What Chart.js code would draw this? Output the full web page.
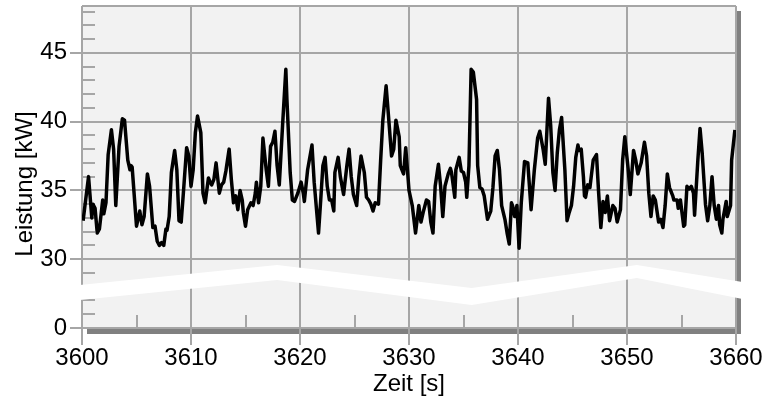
<!DOCTYPE html>
<html>
<head>
<meta charset="utf-8">
<script src="https://cdn.jsdelivr.net/npm/chart.js@4"></script>
<style>
    html, body { margin: 0; padding: 0; background: #fff; }
</style>
</head>
<body>
<canvas id="chart" width="769" height="408"></canvas>
<script>
const zeit = [
    3600.1, 3600.6, 3600.9, 3601.0, 3601.2, 3601.4, 3601.6, 3601.9, 3602.0, 3602.2,
    3602.4, 3602.7, 3602.9, 3603.1, 3603.4, 3603.7, 3603.9, 3604.2, 3604.4, 3604.5,
    3604.6, 3605.0, 3605.3, 3605.5, 3605.7, 3606.0, 3606.2, 3606.5, 3606.7, 3606.9,
    3607.1, 3607.3, 3607.5, 3607.7, 3607.8, 3608.0, 3608.2, 3608.5, 3608.7, 3608.9,
    3609.1, 3609.3, 3609.6, 3609.8, 3610.0, 3610.2, 3610.4, 3610.6, 3610.9, 3611.1,
    3611.3, 3611.6, 3611.7, 3611.9, 3612.1, 3612.3, 3612.6, 3612.8, 3613.0, 3613.2,
    3613.5, 3613.7, 3613.9, 3614.1, 3614.3, 3614.5, 3614.7, 3614.8, 3615.0, 3615.2,
    3615.5, 3615.7, 3615.9, 3616.0, 3616.2, 3616.4, 3616.6, 3616.9, 3617.1, 3617.3,
    3617.5, 3617.7, 3617.9, 3618.1, 3618.4, 3618.7, 3618.8, 3619.1, 3619.3, 3619.5,
    3619.8, 3620.1, 3620.3, 3620.4, 3620.7, 3621.1, 3621.3, 3621.7, 3621.9, 3622.1,
    3622.3, 3622.5, 3622.7, 3622.9, 3623.1, 3623.2, 3623.5, 3623.7, 3624.0, 3624.3,
    3624.5, 3624.7, 3624.9, 3625.2, 3625.4, 3625.6, 3625.9, 3626.1, 3626.3, 3626.5,
    3626.7, 3626.9, 3627.2, 3627.4, 3627.6, 3627.9, 3628.1, 3628.4, 3628.6, 3628.8,
    3629.1, 3629.2, 3629.5, 3629.7, 3630.0, 3630.3, 3630.6, 3630.9, 3631.1, 3631.3,
    3631.6, 3631.8, 3632.0, 3632.2, 3632.4, 3632.7, 3632.9, 3633.1, 3633.3, 3633.6,
    3633.8, 3633.9, 3634.2, 3634.3, 3634.6, 3634.8, 3635.0, 3635.2, 3635.3, 3635.5,
    3635.7, 3635.9, 3636.2, 3636.3, 3636.5, 3636.7, 3636.9, 3637.2, 3637.5, 3637.7,
    3637.9, 3638.1, 3638.3, 3638.5, 3638.8, 3639.0, 3639.2, 3639.4, 3639.5, 3639.7,
    3639.9, 3640.1, 3640.3, 3640.6, 3640.9, 3641.2, 3641.5, 3641.8, 3642.0, 3642.3,
    3642.5, 3642.8, 3643.0, 3643.2, 3643.4, 3643.6, 3643.8, 3644.0, 3644.3, 3644.5,
    3644.7, 3644.9, 3645.1, 3645.3, 3645.5, 3645.6, 3645.8, 3646.0, 3646.1, 3646.2,
    3646.4, 3646.6, 3646.9, 3647.2, 3647.4, 3647.6, 3647.8, 3648.0, 3648.2, 3648.4,
    3648.7, 3648.9, 3649.1, 3649.4, 3649.6, 3649.8, 3650.1, 3650.3, 3650.6, 3650.8,
    3651.0, 3651.3, 3651.6, 3651.8, 3652.0, 3652.2, 3652.4, 3652.6, 3652.9, 3653.1,
    3653.3, 3653.5, 3653.7, 3653.9, 3654.2, 3654.3, 3654.6, 3654.7, 3654.9, 3655.2,
    3655.3, 3655.5, 3655.7, 3655.9, 3656.1, 3656.2, 3656.5, 3656.7, 3656.9, 3657.2,
    3657.4, 3657.6, 3657.8, 3658.0, 3658.2, 3658.4, 3658.5, 3658.7, 3658.8, 3659.1,
    3659.2, 3659.5, 3659.6, 3659.9
];
const leistung = [
    32.8, 36.0, 33.0, 34.0, 33.7, 31.9, 32.2, 34.3, 33.3, 34.1,
    37.6, 39.4, 38.0, 33.9, 38.2, 40.2, 40.1, 37.2, 36.5, 36.8,
    36.7, 32.4, 33.5, 32.5, 33.1, 36.2, 35.3, 32.3, 32.4, 31.3,
    31.0, 31.2, 31.0, 32.2, 32.1, 33.1, 36.3, 37.9, 36.5, 32.8,
    32.7, 34.8, 38.1, 37.5, 35.3, 36.5, 39.2, 40.4, 39.2, 34.8,
    34.1, 35.9, 35.7, 35.4, 35.8, 37.0, 34.8, 35.4, 35.6, 36.4,
    38.0, 35.8, 34.1, 34.6, 33.6, 35.0, 34.3, 33.4, 32.4, 33.6,
    34.1, 33.9, 34.8, 35.6, 34.1, 35.3, 38.8, 36.5, 35.3, 38.2,
    38.5, 39.3, 36.8, 35.4, 39.7, 43.8, 41.6, 36.3, 34.3, 34.2,
    34.8, 35.6, 34.8, 34.2, 36.5, 38.3, 35.6, 31.9, 34.3, 36.8,
    37.4, 35.3, 34.3, 34.3, 33.5, 36.3, 37.4, 36.0, 34.7, 36.8,
    38.0, 36.0, 34.7, 33.9, 36.0, 37.5, 36.3, 34.5, 34.3, 34.0,
    33.5, 34.1, 34.0, 37.2, 40.1, 42.6, 40.6, 37.5, 38.0, 40.1,
    38.9, 36.8, 36.2, 38.1, 35.0, 33.9, 31.9, 33.9, 32.7, 33.4,
    34.3, 34.2, 32.7, 31.9, 35.3, 36.9, 35.3, 33.1, 35.3, 36.2,
    36.6, 36.3, 34.5, 36.5, 37.4, 36.4, 36.3, 35.6, 34.5, 36.8,
    43.8, 43.6, 41.6, 36.8, 35.2, 35.1, 34.6, 32.9, 33.5, 35.2,
    37.5, 37.9, 36.5, 33.9, 32.9, 31.9, 31.1, 34.1, 33.9, 33.1,
    33.9, 30.8, 34.1, 37.1, 37.0, 33.6, 36.5, 38.8, 39.3, 38.0,
    36.9, 41.7, 39.7, 36.3, 35.0, 37.7, 39.4, 40.3, 36.5, 32.8,
    33.4, 33.9, 35.3, 37.4, 38.3, 37.9, 38.0, 36.0, 34.6, 34.5,
    35.4, 35.2, 37.2, 37.6, 34.8, 32.3, 34.2, 33.4, 34.6, 32.8,
    33.9, 33.7, 32.7, 33.6, 37.2, 38.9, 36.6, 34.7, 37.9, 37.2,
    36.2, 37.0, 38.5, 37.5, 34.8, 33.1, 34.6, 34.3, 32.7, 32.9,
    32.3, 33.9, 36.2, 35.2, 34.6, 34.3, 34.3, 33.7, 34.3, 32.4,
    32.5, 35.3, 35.1, 35.3, 34.8, 33.2, 37.2, 39.5, 37.7, 34.0,
    32.8, 33.9, 36.0, 33.9, 32.9, 33.9, 32.5, 31.9, 32.9, 34.2,
    33.1, 33.9, 37.2, 39.4
];

const xTicks = [3600, 3610, 3620, 3630, 3640, 3650, 3660];
const xMinorTicks = [3605, 3615, 3625, 3635, 3645, 3655];
const yTicks = [0, 30, 35, 40, 45];
const xTitel = "Zeit [s]";
const yTitel = "Leistung [kW]";

// Achsenbruch: alles ab 25 kW wird um 25 nach unten geschoben
const BRUCH = 25;
function aufAchse(v) { return v >= BRUCH ? v - BRUCH : v; }
function vonAchse(u) { return u >= 4 ? u + BRUCH : u; }

// Zickzack des Bruchs (Achseinheiten)
const bruchZeit = [3599.8, 3617.9, 3635.75, 3650.9, 3660.6];
const bruchOben = [3.13, 4.58, 2.91, 4.58, 3.34];
const bruchUnten = [2.03, 3.49, 1.67, 3.63, 2.11];

const fontName = '"Liberation Sans", Arial, sans-serif';
const gitter = '#a6a6a6';

const rahmen = {
    id: 'rahmen',
    beforeDraw(chart) {
        const {ctx, chartArea: a} = chart;
        ctx.save();
        ctx.fillStyle = '#808080';
        ctx.fillRect(a.left + 5, a.top + 5, a.width, a.height + 1);
        ctx.fillStyle = '#f2f2f2';
        ctx.fillRect(a.left, a.top, a.width, a.height);
        ctx.restore();
    },
    beforeDatasetsDraw(chart) {
        const {ctx, chartArea: a, scales: {x, y}} = chart;
        ctx.save();
        ctx.strokeStyle = gitter;
        ctx.lineWidth = 2;
        ctx.beginPath();
        ctx.moveTo(a.left, Math.round(a.top)); ctx.lineTo(a.right, Math.round(a.top));
        for (let u = 1; u < y.max; u++) {
            if (u % 5 === 0) continue;
            const py = Math.round(y.getPixelForValue(u));
            ctx.moveTo(a.left, py); ctx.lineTo(a.left + 13, py);
        }
        xMinorTicks.forEach(t => {
            const px = Math.round(x.getPixelForValue(t));
            ctx.moveTo(px, a.bottom); ctx.lineTo(px, a.bottom - 13);
        });
        ctx.stroke();

        ctx.fillStyle = '#fff';
        ctx.beginPath();
        bruchZeit.forEach((t, i) => {
            const px = x.getPixelForValue(t), py = y.getPixelForValue(bruchOben[i]);
            if (i === 0) ctx.moveTo(px, py); else ctx.lineTo(px, py);
        });
        for (let i = bruchZeit.length - 1; i >= 0; i--) {
            ctx.lineTo(x.getPixelForValue(bruchZeit[i]), y.getPixelForValue(bruchUnten[i]));
        }
        ctx.closePath();
        ctx.fill();

        // y-Titel
        ctx.translate(25, 184);
        ctx.rotate(-Math.PI / 2);
        ctx.font = '24px ' + fontName;
        ctx.fillStyle = '#000';
        ctx.textAlign = 'center';
        ctx.textBaseline = 'middle';
        ctx.fillText(yTitel, 0, 0);
        ctx.restore();
    }
};

new Chart(document.getElementById('chart'), {
    type: 'line',
    data: {
        datasets: [{
            data: zeit.map((t, i) => ({x: t, y: aufAchse(leistung[i])})),
            borderColor: '#000',
            borderWidth: 3.5,
            borderJoinStyle: 'round',
            pointRadius: 0,
            tension: 0,
            fill: false
        }]
    },
    options: {
        responsive: false,
        animation: false,
        layout: { padding: { top: 6, right: 33, left: 0, bottom: 0 } },
        plugins: { legend: { display: false }, tooltip: { enabled: false } },
        scales: {
            x: {
                type: 'linear',
                min: 3600,
                max: 3660,
                afterFit(s) { s.height = 80; s.paddingLeft = 0; s.paddingRight = 0; },
                afterBuildTicks(s) { s.ticks = xTicks.map(v => ({value: v})); },
                grid: { color: gitter, lineWidth: 2, tickLength: 17 },
                border: { display: false },
                ticks: {
                    color: '#000',
                    font: { family: fontName, size: 24 },
                    padding: -1,
                    maxRotation: 0,
                    callback: v => String(v)
                },
                title: {
                    display: true,
                    text: xTitel,
                    color: '#000',
                    font: { family: fontName, size: 24 },
                    padding: { top: 0, bottom: 9 }
                }
            },
            y: {
                type: 'linear',
                min: 0,
                max: 23.4,
                afterFit(s) { s.width = 82; s.paddingTop = 0; s.paddingBottom = 0; },
                afterBuildTicks(s) { s.ticks = yTicks.map(v => ({value: aufAchse(v)})); },
                grid: { color: gitter, lineWidth: 2, tickLength: 12 },
                border: { display: false },
                ticks: {
                    color: '#000',
                    font: { family: fontName, size: 24 },
                    padding: 3,
                    callback: v => String(Math.round(vonAchse(v)))
                },
                title: { display: false }
            }
        }
    },
    plugins: [rahmen]
});
</script>
</body>
</html>
